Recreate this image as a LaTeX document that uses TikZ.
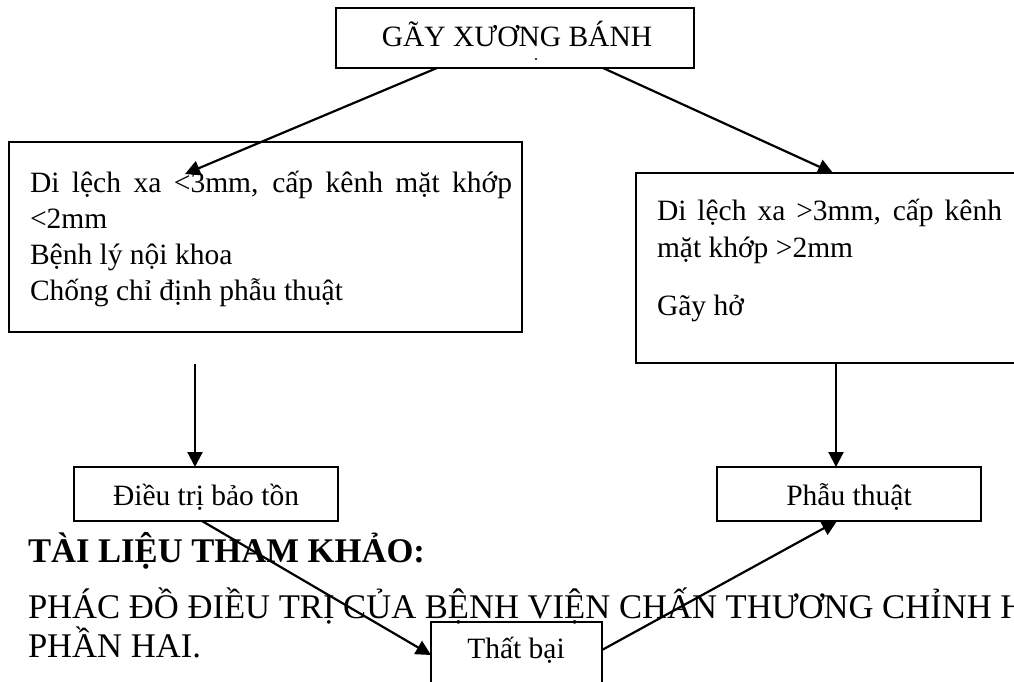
\documentclass[tikz,border=0pt]{standalone}
\usepackage{fontspec}
\setmainfont{Liberation Serif}
\usetikzlibrary{arrows.meta}

\begin{document}
\begin{tikzpicture}[x=1pt,y=-1pt,
  box/.style={draw,line width=2pt,inner sep=0pt,outer sep=0pt},
  txt/.style={inner sep=0pt,outer sep=0pt,font=\fontsize{29.5pt}{36.3pt}\selectfont},
  head/.style={inner sep=0pt,outer sep=0pt,anchor=base west,font=\fontsize{34.6pt}{39pt}\selectfont},
  arr/.style={line width=2.2pt,-{Triangle[length=15pt,width=15pt]}}]
\useasboundingbox (0,0) rectangle (1014,682);
\clip (0,0) rectangle (1014,682);

% boxes
\node[box,minimum width=358pt,minimum height=60pt] (top) at (515,38) {};
\node[box,minimum width=513pt,minimum height=190pt] (left) at (265.5,237) {};
\node[box,minimum width=400pt,minimum height=190pt,anchor=north west] (right) at (636,173) {};
\node[box,minimum width=264pt,minimum height=54pt] (cons) at (206,494) {};
\node[box,minimum width=264pt,minimum height=54pt] (surg) at (849,494) {};
\node[box,minimum width=171pt,minimum height=90pt,anchor=north west] (fail) at (431,622) {};

% box texts
\node[txt,anchor=base] (ttop) at (517,47) {GÃY XƯƠNG BÁNH};
\fill (536,59) ellipse (1.3 and 1);

\node[txt,anchor=base west] (l1) at (30,192) {\makebox[482pt][s]{Di lệch xa <3mm, cấp kênh mặt khớp}};
\node[txt,anchor=base west] (l2) at (30,228) {<2mm};
\node[txt,anchor=base west] (l3) at (30,264) {Bệnh lý nội khoa};
\node[txt,anchor=base west] (l4) at (30,300) {Chống chỉ định phẫu thuật};

\node[txt,anchor=base west] (r1) at (657,220) {\makebox[345pt][s]{Di lệch xa >3mm, cấp kênh}};
\node[txt,anchor=base west] (r2) at (657,257) {mặt khớp >2mm};
\node[txt,anchor=base west] (r3) at (657,315) {Gãy hở};

\node[txt,anchor=base] (tcons) at (206,505) {Điều trị bảo tồn};
\node[txt,anchor=base] (tsurg) at (849,505) {Phẫu thuật};
\node[txt,anchor=base] (tfail) at (516,658) {Thất bại};

% reference text
\node[head,font=\fontsize{34.6pt}{39pt}\selectfont\bfseries] (ref) at (28,562) {TÀI LIỆU THAM KHẢO:};
\node[head] (ref1) at (28,618) {PHÁC ĐỒ ĐIỀU TRỊ CỦA BỆNH VIỆN CHẤN THƯƠNG CHỈNH H};
\node[head] (ref2) at (28,657) {PHẦN HAI.};

% connectors
\coordinate (lstart) at (195,364);
\coordinate (ltip) at (185,174);
\draw[arr] (top.south -| 437,0) -- (ltip);
\draw[arr] (top.south -| 603,0) -- (right.north -| 833,0);
\draw[arr] (lstart) -- (cons.north -| lstart);
\draw[arr] (right.south -| 836,0) -- (surg.north -| 836,0);
\draw[arr] (cons.south -| 202,0) -- (fail.west |- 0,655);
\draw[arr] (fail.east |- 0,650) -- (surg.south -| 837,0);
\end{tikzpicture}
\end{document}
